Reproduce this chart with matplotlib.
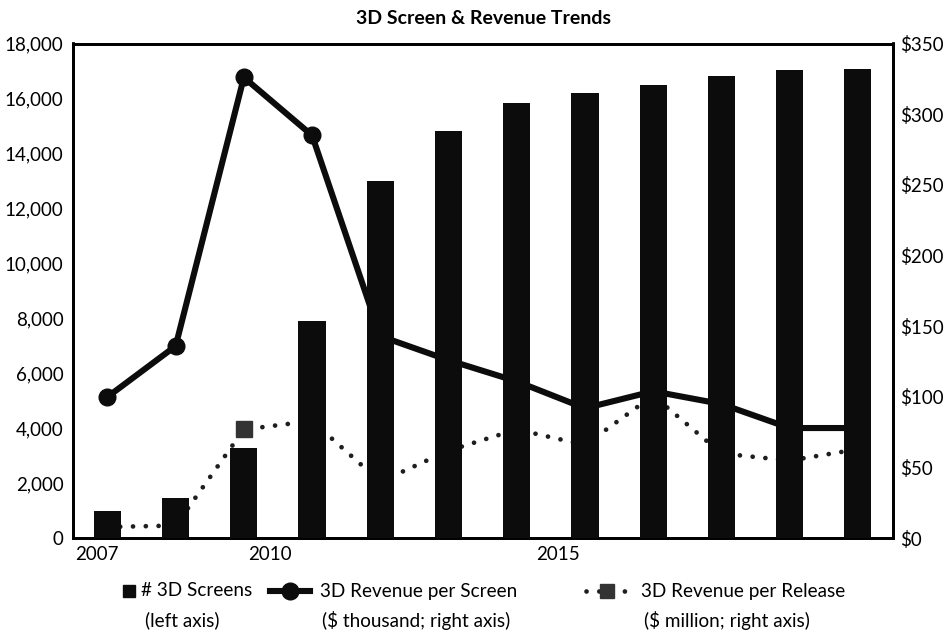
import matplotlib
matplotlib.use("Agg")
import matplotlib.pyplot as plt
from matplotlib.lines import Line2D
from matplotlib.ticker import FuncFormatter

# Data
years = [2007, 2008, 2009, 2010, 2011, 2012, 2013, 2014, 2015, 2016, 2017, 2018]
screens = [1000, 1450, 3300, 7900, 13000, 14800, 15850, 16200, 16500, 16800, 17050, 17080]
rev_per_screen = [100, 136, 326, 285, 143, 126, 111, 92, 104, 95, 78, 78]     # $ thousand
rev_per_release = [8, 9, 77, 83, 40, 62, 77, 66, 101, 60, 55, 63]             # $ million
year_labels = ["2007", "2010", "2015"]
left_ticks = list(range(0, 18001, 2000))
right_ticks = list(range(0, 351, 50))

FONT = ["Lato", "DejaVu Sans"]
plt.rcParams["font.family"] = FONT
INK = "#0c0c0c"

W, H = 948, 633
fig = plt.figure(figsize=(W / 100, H / 100), dpi=100)
fig.patch.set_facecolor("white")


def fx(px):
    return px / W


def fy(py):
    return 1 - py / H


ax = fig.add_axes([fx(73.3), fy(538.3), fx(893.3) - fx(73.3), fy(43.5) - fy(538.3)])
ax2 = ax.twinx()

# bars sit in front of both lines
ax.set_zorder(2)
ax2.set_zorder(1)
ax.patch.set_visible(False)

ax.bar(years, screens, width=0.4, color=INK, zorder=3)

ax2.plot(years, rev_per_release, color="#1e1e1e", lw=3.4,
         linestyle=(0, (0.01, 2.7)), dash_capstyle="round",
         marker="s", markersize=11.5, markerfacecolor="#333333",
         markeredgecolor="#333333", zorder=2)
ax2.plot(years, rev_per_screen, color=INK, lw=4.4, solid_capstyle="round",
         marker="o", markersize=12, markerfacecolor=INK, markeredgecolor=INK,
         zorder=3)

ax.set_xlim(2006.5, 2018.52)
ax.set_ylim(0, 18000)
ax2.set_ylim(0, 350)

ax.set_yticks(left_ticks)
ax.yaxis.set_major_formatter(FuncFormatter(lambda v, p: f"{int(v):,}"))
ax2.set_yticks(right_ticks)
ax2.yaxis.set_major_formatter(FuncFormatter(lambda v, p: f"${int(v)}"))

# year labels run on their own spacing along the base
label_pos = [2006.85 + (int(s) - 2007) * 0.845 for s in year_labels]
ax.set_xticks(label_pos)
ax.set_xticklabels(year_labels)

ax.tick_params(axis="x", length=0, pad=5.5, labelsize=13.5, colors="black")
ax.tick_params(axis="y", length=0, pad=7, labelsize=13.5, colors="black")
ax2.tick_params(axis="y", length=0, pad=5, labelsize=13.5, colors="black")

for a in (ax, ax2):
    for s in a.spines.values():
        s.set_linewidth(2.0)
        s.set_color("black")

fig.text(fx(483.5), fy(18), "3D Screen & Revenue Trends", ha="center", va="center",
         fontsize=14, fontweight="bold", color="black")

# legend drawn underneath the plot
row1, row2 = fy(591), fy(620)
fig.add_artist(Line2D([fx(129)], [row1], marker="s", markersize=8.5, color=INK,
                      linestyle="none", transform=fig.transFigure))
fig.add_artist(Line2D([fx(270), fx(310)], [row1, row1], color=INK, lw=4.4,
                      transform=fig.transFigure))
fig.add_artist(Line2D([fx(290)], [row1], marker="o", markersize=12, color=INK,
                      linestyle="none", transform=fig.transFigure))
fig.add_artist(Line2D([fx(586), fx(630)], [row1, row1], color="#1e1e1e", lw=3.4,
                      linestyle=(0, (0.01, 2.7)), dash_capstyle="round",
                      transform=fig.transFigure))
fig.add_artist(Line2D([fx(607)], [row1], marker="s", markersize=10, color="#333333",
                      linestyle="none", transform=fig.transFigure))

legend_text = [
    (141, "# 3D Screens", 145, "(left axis)"),
    (320, "3D Revenue per Screen", 322, "($ thousand; right axis)"),
    (641, "3D Revenue per Release", 644, "($ million; right axis)"),
]
for x1, t1, x2, t2 in legend_text:
    fig.text(fx(x1), row1, t1, ha="left", va="center", fontsize=13.6, color="black")
    fig.text(fx(x2), row2, t2, ha="left", va="center", fontsize=13.6, color="black")

fig.savefig("out.png", dpi=100, facecolor="white")
